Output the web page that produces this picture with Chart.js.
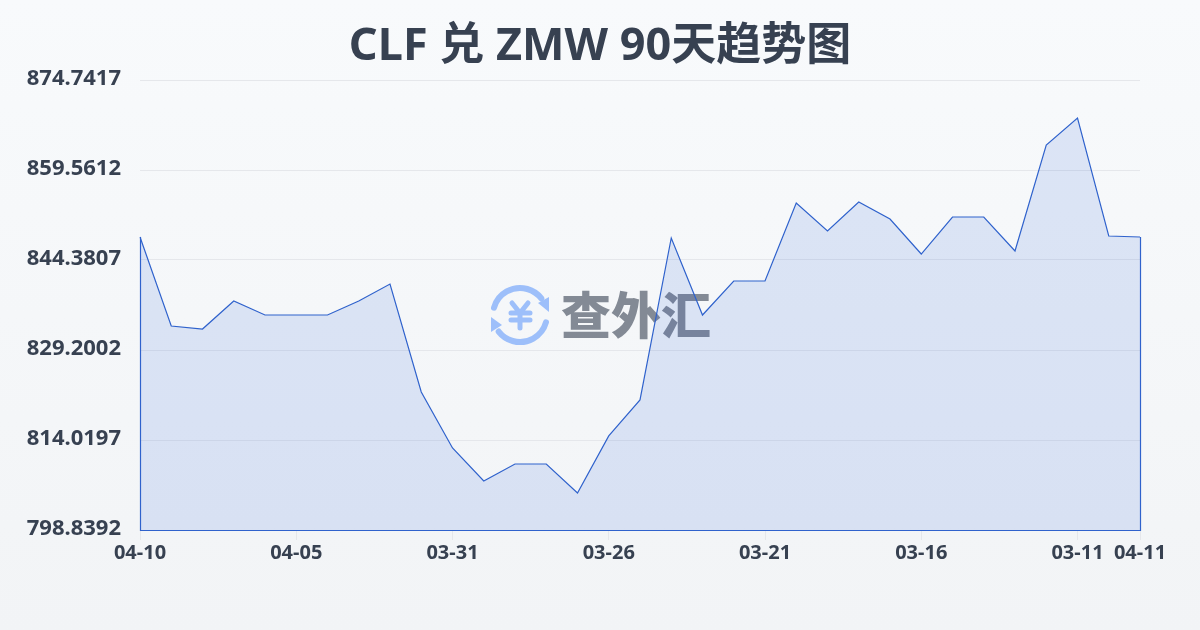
<!DOCTYPE html>
<html>
<head>
<meta charset="utf-8">
<script src="https://cdn.jsdelivr.net/npm/chart.js@4/dist/chart.umd.min.js"></script>
<style>
  html, body { margin: 0; padding: 0; }
  body { width: 1200px; height: 630px; overflow: hidden; background: linear-gradient(180deg, #f8fafc 0%, #f2f4f6 100%); }
  #wrap { position: relative; width: 1200px; height: 630px; }
</style>
</head>
<body>
<div id="wrap"><canvas id="rateChart" width="1200" height="630"></canvas></div>
<script>
const titleText = 'CLF 兑 ZMW 90天趋势图';
const watermarkText = '查外汇';
const dates = ['04-10','04-09','04-08','04-07','04-06','04-05','04-04','04-03','04-02','04-01','03-31','03-30','03-29','03-28','03-27','03-26','03-25','03-24','03-23','03-22','03-21','03-20','03-19','03-18','03-17','03-16','03-15','03-14','03-13','03-12','03-11','03-10','04-11'];
const rates = [848.26,833.25,832.74,837.47,835.10,835.10,835.10,837.47,840.33,822.12,812.67,807.10,809.97,809.97,805.08,814.70,820.77,848.09,835.10,840.84,840.84,853.99,849.27,854.16,851.30,845.39,851.63,851.63,845.90,863.78,868.33,848.43,848.26];
const yTicks = [798.8392,814.0197,829.2002,844.3807,859.5612,874.7417];
const xTickIndexes = [0,5,10,15,20,25,30,32];

const font = '"Noto Sans", "Noto Sans CJK SC", sans-serif';
const textColor = '#374151';
const lineColor = '#2f62cc';

const ctx = document.getElementById('rateChart').getContext('2d');

// title and watermark sit under the area, the closing edge of the area goes on top
const extras = {
  id: 'extras',
  beforeDatasetsDraw(chart) {
    const c = chart.ctx;
    c.save();
    c.fillStyle = textColor;
    c.font = 'bold 45px ' + font;
    c.textAlign = 'center';
    c.textBaseline = 'middle';
    c.fillText(titleText, 600, 47);
    c.fillStyle = 'rgba(55,65,81,0.6)';
    c.font = '900 50px "Noto Sans CJK SC", sans-serif';
    c.textAlign = 'left';
    c.fillText(watermarkText, 561, 315);
    // coin icon
    c.strokeStyle = c.fillStyle = '#9dbffa';
    c.lineWidth = 6;
    c.lineCap = 'round';
    c.beginPath(); c.arc(520, 315, 27, Math.PI * 1.087, Math.PI * 1.79); c.stroke();
    c.beginPath(); c.arc(520, 315, 27, Math.PI * 0.087, Math.PI * 0.79); c.stroke();
    c.beginPath(); c.moveTo(549, 297); c.lineTo(549, 312); c.lineTo(538, 303); c.closePath(); c.fill();
    c.beginPath(); c.moveTo(491, 317); c.lineTo(491, 332); c.lineTo(502, 325); c.closePath(); c.fill();
    c.lineWidth = 5;
    c.beginPath();
    c.moveTo(512, 303); c.lineTo(520, 313); c.lineTo(528, 303);
    c.moveTo(520, 313); c.lineTo(520, 328);
    c.moveTo(511, 313); c.lineTo(530, 313);
    c.moveTo(511, 320); c.lineTo(530, 320);
    c.stroke();
    c.restore();
  },
  afterDatasetsDraw(chart) {
    const pts = chart.getDatasetMeta(0).data;
    const first = pts[0], last = pts[pts.length - 1];
    const bottom = chart.chartArea.bottom;
    const c = chart.ctx;
    c.save();
    c.strokeStyle = lineColor;
    c.lineWidth = 1.2;
    c.beginPath();
    c.moveTo(first.x + 0.5, first.y);
    c.lineTo(first.x + 0.5, bottom + 0.5);
    c.lineTo(last.x + 0.5, bottom + 0.5);
    c.lineTo(last.x + 0.5, last.y);
    c.stroke();
    c.restore();
  }
};

new Chart(ctx, {
  type: 'line',
  data: {
    labels: dates,
    datasets: [{
      data: rates,
      borderColor: lineColor,
      borderWidth: 1.2,
      backgroundColor: 'rgba(40,95,215,0.13)',
      fill: 'start',
      tension: 0,
      pointRadius: 0
    }]
  },
  options: {
    responsive: false,
    animation: false,
    layout: { padding: { left: 0, right: 60, top: 80, bottom: 0 } },
    plugins: {
      legend: { display: false },
      tooltip: { enabled: false },
      title: { display: false }
    },
    scales: {
      x: {
        offset: false,
        afterBuildTicks(scale) {
          scale.ticks = xTickIndexes.map(i => ({ value: i }));
        },
        afterFit(scale) { scale.height = 100; },
        border: { display: false },
        grid: { drawOnChartArea: false, color: '#e5e7eb', tickLength: 10 },
        ticks: {
          autoSkip: false,
          maxRotation: 0,
          color: textColor,
          padding: 1,
          font: { family: font, size: 20, weight: 'bold' }
        }
      },
      y: {
        min: yTicks[0],
        max: yTicks[yTicks.length - 1],
        afterBuildTicks(scale) {
          scale.ticks = yTicks.map(v => ({ value: v }));
        },
        afterFit(scale) { scale.width = 140; },
        border: { display: false },
        grid: { color: '#e5e7eb', drawTicks: false },
        ticks: {
          color: textColor,
          padding: 19,
          labelOffset: -1,
          font: { family: font, size: 22, weight: 'bold' },
          callback: v => v.toFixed(4)
        }
      }
    }
  },
  plugins: [extras]
});
</script>
</body>
</html>
